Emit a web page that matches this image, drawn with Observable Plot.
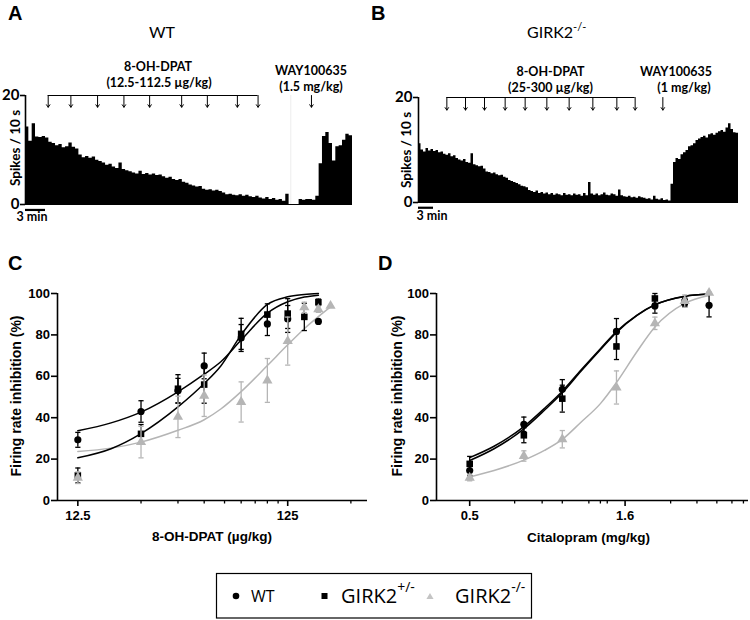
<!DOCTYPE html>
<html><head><meta charset="utf-8">
<script src="https://cdn.jsdelivr.net/npm/d3@7"></script>
<script src="https://cdn.jsdelivr.net/npm/@observablehq/plot@0.6"></script>
<style>
body{margin:0;background:#fff;}
#root{position:relative;width:750px;height:620px;overflow:hidden;background:#fff;}
</style></head><body><div id="root"></div>
<script>
// ---------- Panel A / B : spike-rate traces (spikes / 10 s, one value per 0.5 min) ----------
const binMinutes = 0.5;
const traceA = [
  14.2, 11.6, 14.8, 12.4, 12.3, 12.5, 12.2, 11.4, 11.2, 10.8,
  11.0, 10.4, 10.6, 11.3, 10.5, 10.2, 9.1, 8.6, 8.8, 8.5,
  8.7, 8.1, 7.9, 7.6, 7.2, 7.4, 6.9, 6.6, 7.6, 6.4,
  6.2, 6.0, 5.8, 5.6, 6.1, 5.5, 5.7, 5.4, 5.6, 5.3,
  5.4, 5.1, 4.8, 5.0, 4.6, 4.4, 4.6, 4.1, 3.9, 3.6,
  3.4, 3.2, 3.3, 2.8, 2.6, 2.7, 2.5, 2.6, 2.4, 2.1,
  1.8, 1.9, 1.7, 1.6, 1.8, 1.5, 1.7, 1.4, 1.3, 1.5,
  1.2, 1.0, 1.3, 0.9, 1.1, 0.8, 0.9, 0.6, 1.9, 0.0,
  0.0, 0.0, 0.9, 0.8, 0.9, 0.9, 0.8, 1.5, 7.5, 12.5,
  13.2, 11.2, 8.0, 10.6, 10.8, 11.8, 12.9, 12.6
];
const traceB = [
  11.2, 10.0, 9.6, 10.3, 9.8, 10.1, 9.7, 9.9, 9.5, 9.6,
  9.2, 9.0, 9.3, 8.7, 8.9, 8.4, 8.1, 7.9, 8.2, 7.6,
  7.5, 9.3, 7.2, 7.0, 6.8, 6.9, 6.4, 5.8, 5.7, 5.5,
  5.6, 5.3, 5.1, 5.2, 4.8, 4.6, 4.2, 4.0, 3.8, 3.6,
  3.4, 3.1, 3.0, 2.8, 2.3, 2.1, 1.9, 2.2, 1.7, 1.9,
  1.6, 1.8, 1.5, 1.7, 1.4, 1.6, 1.5, 1.3, 1.7, 1.4,
  1.5, 1.3, 1.6, 1.4, 1.5, 1.2, 1.7, 1.3, 3.8, 1.6,
  1.4, 1.6, 1.3, 1.5, 1.8, 1.4, 1.3, 1.6, 1.5, 1.2,
  2.4, 1.3, 1.1, 1.0, 1.2, 0.9, 1.0, 0.8, 1.1, 0.9,
  0.8, 0.6, 0.7, 0.5, 1.2, 0.6, 0.5, 0.7, 0.4, 0.5,
  0.3, 3.5, 7.6, 8.4, 8.2, 9.1, 9.5, 9.9, 10.6, 10.8,
  11.2, 11.8, 12.1, 12.4, 12.6, 12.3, 12.9, 13.1, 12.8, 13.2,
  13.5, 13.7, 13.4, 14.2, 15.0, 13.9, 13.3, 13.2
];
// injection times (min)
const dpatArrowsA = [3.4, 6.8, 10.8, 14.75, 18.6, 23.4, 27.25, 31.75, 34.85];
const wayArrowA = [42.85];
const breakLineA = [39.75];
const dpatArrowsB = [5.67, 9.4, 13.2, 17.33, 21.33, 25.67, 30.13, 34.87, 39.67, 43.33];
const wayArrowB = [48.87];
const scaleBarMin = [0, 3];
const spikeTicks = [0, 20];

// ---------- Panel C : 8-OH-DPAT (µg/kg) ----------
const cDoseWT = [12.5, 25, 37.5, 50, 75, 100, 125, 175];
const cMeanWT = [29.3, 43, 53, 65, 78.5, 85.3, 87.7, 86.5];
const cErrWT  = [3.6, 5.2, 6, 6.2, 6.5, 5.6, 6.5, 0];
const cDoseHet = [12.5, 25, 37.5, 50, 75, 100, 125, 150, 175];
const cMeanHet = [12.1, 32.2, 54, 56, 80.5, 89.8, 90.3, 88.7, 95.8];
const cErrHet  = [3.6, 4.5, 6.8, 9, 7.5, 5.2, 7.2, 6.6, 1.5];
const cDoseKO = [12.5, 25, 37.5, 50, 75, 100, 125, 150, 175, 200];
const cMeanKO = [11, 28.2, 40.4, 50.6, 47.6, 58, 77, 93.3, 92.4, 94];
const cErrKO  = [2.8, 7.6, 10, 10, 9.7, 10.6, 11.6, 2.5, 1.5, 0];
const cFitDose = [12.5, 18, 25, 37.5, 50, 60, 75, 100, 125, 150, 175];
const cFitWT  = [33.7, 37.5, 42.7, 52.5, 61, 67, 77.5, 90.5, 96, 98.3, 99.2];
const cFitHet = [20.6, 25, 32.3, 45.2, 56.5, 65, 80, 94.7, 98.4, 99.5, 100];
const cFitKODose = [12.5, 18, 25, 37.5, 50, 60, 75, 100, 125, 150, 175, 200];
const cFitKO = [23.7, 25.3, 28.2, 33.9, 39, 44.2, 52.6, 65.2, 75.2, 83, 88.8, 93.5];
const cXDomain = [10, 300];
const cMajorTicks = [12.5, 125];
const cMinorTicks = [25, 37.5, 50, 62.5, 75, 87.5, 100, 112.5, 250];

// ---------- Panel D : Citalopram (mg/kg) ----------
const dDose = [0.5, 0.75, 1, 1.5, 2, 2.5, 3];
const dMeanWT = [14.5, 36.8, 53.7, 81.7, 94, 95.5, 94.3];
const dErrWT  = [2.5, 3.5, 4.7, 6.2, 3.5, 2, 5.6];
const dDoseHet = [0.5, 0.75, 1, 1.5, 2, 2.5];
const dMeanHet = [17.7, 31.5, 49.2, 74.4, 97.6, 95.8];
const dErrHet  = [3.6, 3.6, 6.5, 6.3, 2.4, 2];
const dMeanKO = [11, 21.5, 29.6, 54.6, 85.6, 96.3, 100.3];
const dErrKO  = [1.5, 2.5, 4.2, 8, 3, 3, 0.5];
const dFitDose = [0.5, 0.6, 0.75, 0.875, 1, 1.15, 1.33, 1.5, 1.75, 2, 2.5, 3];
const dFitWT  = [20.7, 26.2, 35.7, 44.5, 52.8, 63, 73.3, 81.6, 89.6, 94.6, 98.6, 99.7];
const dFitHet = [19.3, 25, 34.6, 43.6, 52, 62.4, 72.8, 81.2, 89.4, 94.5, 98.7, 99.8];
const dFitKO  = [11.4, 14.5, 19.5, 24.2, 29.5, 37.8, 46.8, 57, 72, 83.8, 95.2, 99];
const dXDomain = [0.39, 4.03];
const dMajorTicks = [0.5, 1.6];
const dMinorTicks = [0.7, 0.86, 1, 1.22, 1.33, 1.4, 2.25, 2.74, 3.18, 3.56, 3.88];

const inhibTicks = [0, 20, 40, 60, 80, 100];
const GRAY = "#b5b5b5";

// ---------------------------------------------------------------
const root = document.getElementById("root");
function place(el, left, top) {
  el.style.position = "absolute";
  el.style.left = left + "px";
  el.style.top = top + "px";
  root.appendChild(el);
}
function traceTable(vals) {
  const rows = vals.map((v, i) => ({t: i * binMinutes, v}));
  rows.push({t: vals.length * binMinutes, v: vals[vals.length - 1]});
  return rows;
}
function tracePlot(o) {
  const marks = [];
  if (o.breakLine) marks.push(Plot.ruleX(o.breakLine, {y1: () => 0, y2: () => 20, stroke: "#ededed", strokeWidth: 1}));
  marks.push(
    Plot.areaY(traceTable(o.vals), {x: "t", y: "v", curve: "step-after", fill: "black"}),
    Plot.ruleY([0], {stroke: "black", strokeWidth: 1}),
    Plot.ruleX([0], {y1: () => 0, y2: () => 20, strokeWidth: 1.6}),
    Plot.axisY({ticks: spikeTicks, tickSize: 5, tickPadding: 1, label: null, strokeWidth: 1.6}),
    Plot.ruleY([20], {x1: () => d3.min(o.arrows), x2: () => d3.max(o.arrows), strokeWidth: 1}),
    Plot.arrow(o.arrows, {x1: d => d, x2: d => d, y1: () => 20, y2: () => o.tip, headLength: 4.5, headAngle: 70, strokeWidth: 1}),
    Plot.arrow(o.way, {x1: d => d, x2: d => d, y1: () => 20, y2: () => o.tip, headLength: 4.5, headAngle: 70, strokeWidth: 1}),
    Plot.ruleY([-1], {x1: () => scaleBarMin[0], x2: () => scaleBarMin[1], strokeWidth: 2.2})
  );
  return Plot.plot({
    width: o.width, height: o.height,
    marginLeft: o.ml, marginRight: o.mr, marginTop: o.mt, marginBottom: o.mb,
    x: {domain: [0, o.xmax], axis: null},
    y: {domain: [0, 20]},
    style: {fontFamily: "Lato, 'Open Sans', sans-serif", fontSize: "15px", fontWeight: "bold", background: "none", overflow: "visible", color: "black"},
    marks
  });
}
const capSymbol = {draw(ctx, size) { const w = Math.sqrt(size / Math.PI); ctx.moveTo(-w, 0); ctx.lineTo(w, 0); }};
function rows(doses, means, errs) { return doses.map((d, i) => ({dose: d, m: means[i], e: errs[i]})); }
function fitRows(doses, vals) { return doses.map((d, i) => ({dose: d, v: vals[i]})); }
function errMarks(data, color) {
  return [
    Plot.ruleX(data, {x: "dose", y1: d => d.m - d.e, y2: d => d.m + d.e, stroke: color, strokeWidth: 1.3}),
    Plot.dot(data, {x: "dose", y: d => d.m + d.e, symbol: capSymbol, r: 2.6, fill: "none", stroke: color, strokeWidth: 1.3}),
    Plot.dot(data, {x: "dose", y: d => d.m - d.e, symbol: capSymbol, r: 2.6, fill: "none", stroke: color, strokeWidth: 1.3})
  ];
}
function dosePlot(o) {
  const marks = [
    Plot.ruleY([0], {strokeWidth: 1.6}),
    Plot.ruleX([o.xDomain[0]], {y1: () => 0, y2: () => 100, strokeWidth: 1.6}),
    Plot.axisY({ticks: inhibTicks, tickSize: 6, tickPadding: 1.5, label: null, strokeWidth: 1.6}),
    Plot.axisX({ticks: o.major, tickSize: 6, tickPadding: 4, tickFormat: d => String(d), label: null, strokeWidth: 1.6}),
    Plot.axisX({ticks: o.minor, tickSize: 3.5, tickFormat: () => "", label: null, strokeWidth: 1.3}),
    Plot.line(o.fitKO, {x: "dose", y: "v", stroke: GRAY, strokeWidth: 1.5, curve: "monotone-x"}),
    Plot.line(o.fitWT, {x: "dose", y: "v", stroke: "black", strokeWidth: 1.5, curve: "monotone-x"}),
    Plot.line(o.fitHet, {x: "dose", y: "v", stroke: "black", strokeWidth: 1.5, curve: "monotone-x"}),
    ...errMarks(o.wt, "black"),
    ...errMarks(o.het, "black"),
    Plot.dot(o.wt, {x: "dose", y: "m", symbol: "circle", r: 3.6, fill: "black", stroke: "none"}),
    Plot.dot(o.het, {x: "dose", y: "m", symbol: "square", r: 3.7, fill: "black", stroke: "none"}),
    ...errMarks(o.ko, GRAY),
    Plot.dot(o.ko, {x: "dose", y: "m", symbol: "triangle", r: 3.8, fill: GRAY, stroke: "none"})
  ];
  return Plot.plot({
    width: o.width, height: 290,
    marginLeft: o.ml, marginRight: o.mr, marginTop: 33, marginBottom: 50,
    x: {type: "log", domain: o.xDomain},
    y: {domain: [0, 100]},
    style: {fontFamily: "'Liberation Sans', Arial, sans-serif", fontSize: "13px", fontWeight: "bold", background: "none", overflow: "visible", color: "black"},
    marks
  });
}

// Panels A, B
place(tracePlot({vals: traceA, arrows: dpatArrowsA, way: wayArrowA, breakLine: breakLineA, tip: 17.85, xmax: 49,
  width: 360, height: 190, ml: 25, mr: 8, mt: 55, mb: 26}), 0, 40);
place(tracePlot({vals: traceB, arrows: dpatArrowsB, way: wayArrowB, tip: 17.6, xmax: 64,
  width: 375, height: 190, ml: 48, mr: 7, mt: 57, mb: 28}), 370, 40);

// Panels C, D
place(dosePlot({xDomain: cXDomain, major: cMajorTicks, minor: cMinorTicks, width: 375, ml: 57, mr: 8,
  wt: rows(cDoseWT, cMeanWT, cErrWT), het: rows(cDoseHet, cMeanHet, cErrHet), ko: rows(cDoseKO, cMeanKO, cErrKO),
  fitWT: fitRows(cFitDose, cFitWT), fitHet: fitRows(cFitDose, cFitHet), fitKO: fitRows(cFitKODose, cFitKO)}), 0, 260);
place(dosePlot({xDomain: dXDomain, major: dMajorTicks, minor: dMinorTicks, width: 375, ml: 61, mr: 2,
  wt: rows(dDose, dMeanWT, dErrWT), het: rows(dDoseHet, dMeanHet, dErrHet), ko: rows(dDose, dMeanKO, dErrKO),
  fitWT: fitRows(dFitDose, dFitWT), fitHet: fitRows(dFitDose, dFitHet), fitKO: fitRows(dFitDose, dFitKO)}), 375, 260);

// ---------- text overlay ----------
const ov = d3.create("svg").attr("width", 750).attr("height", 620)
  .style("position", "absolute").style("left", "0px").style("top", "0px").style("pointer-events", "none");
const LET = "'Liberation Sans', Arial, sans-serif", CAL = "Lato, 'Open Sans', sans-serif", LEG = "'Open Sans', sans-serif";
function txt(x, y, s, size, weight, family, anchor = "middle", rotate = false) {
  const t = ov.append("text").attr("font-size", size).attr("font-weight", weight).attr("font-family", family)
    .attr("text-anchor", anchor).attr("fill", "black").text(s);
  if (rotate) t.attr("transform", `translate(${x},${y}) rotate(-90)`); else t.attr("x", x).attr("y", y);
  return t;
}
function supTxt(x, y, base, sup, size, supSize, family, dy) {
  const t = ov.append("text").attr("x", x).attr("y", y).attr("font-size", size).attr("font-family", family).attr("fill", "black");
  t.append("tspan").text(base);
  t.append("tspan").attr("dy", -dy).attr("font-size", supSize).text(sup);
  return t;
}
// letters
txt(8, 20, "A", 20, "bold", LET, "start");
txt(371, 20, "B", 20, "bold", LET, "start");
txt(8, 270, "C", 20, "bold", LET, "start");
txt(378, 270, "D", 20, "bold", LET, "start");
// A texts
txt(162, 38, "WT", 16, "normal", CAL);
txt(158, 71, "8-OH-DPAT", 12.5, "bold", CAL);
txt(159, 87, "(12.5-112.5 µg/kg)", 12.5, "bold", CAL);
txt(311, 75, "WAY100635", 12.5, "bold", CAL);
txt(311, 91, "(1.5 mg/kg)", 12.5, "bold", CAL);
txt(19.5, 148, "Spikes / 10 s", 13.5, "bold", CAL, "middle", true);
txt(32, 221, "3 min", 12.5, "bold", CAL);
// B texts
supTxt(527, 38, "GIRK2", "-/-", 16, 11, CAL, 7);
txt(550.5, 76, "8-OH-DPAT", 12.5, "bold", CAL);
txt(550.5, 92, "(25-300 µg/kg)", 12.5, "bold", CAL);
txt(676, 76, "WAY100635", 12.5, "bold", CAL);
txt(684, 92, "(1 mg/kg)", 12.5, "bold", CAL);
txt(410.5, 150, "Spikes / 10 s", 13.5, "bold", CAL, "middle", true);
txt(432, 220, "3 min", 12.5, "bold", CAL);
// C, D axis titles
txt(21, 396, "Firing rate inhibition (%)", 14, "bold", LET, "middle", true);
txt(212, 541, "8-OH-DPAT (µg/kg)", 13.5, "bold", LET);
txt(401.5, 396, "Firing rate inhibition (%)", 14, "bold", LET, "middle", true);
txt(588.5, 542, "Citalopram (mg/kg)", 13.5, "bold", LET);
// legend
ov.append("rect").attr("x", 216.5).attr("y", 573.5).attr("width", 315).attr("height", 44.5)
  .attr("fill", "none").attr("stroke", "black").attr("stroke-width", 1.2);
ov.append("circle").attr("cx", 236).attr("cy", 596).attr("r", 3.3).attr("fill", "black");
txt(251, 602, "WT", 16, "normal", LEG, "start");
ov.append("rect").attr("x", 321.5).attr("y", 593).attr("width", 6).attr("height", 6).attr("fill", "black");
supTxt(341, 603, "GIRK2", "+/-", 20, 14, LEG, 11);
ov.append("path").attr("d", d3.symbol(d3.symbolTriangle, 22)()).attr("transform", "translate(430,597)").attr("fill", "#c4c4c4");
supTxt(455, 603, "GIRK2", "-/-", 20, 14, LEG, 11);
root.appendChild(ov.node());
</script></body></html>
